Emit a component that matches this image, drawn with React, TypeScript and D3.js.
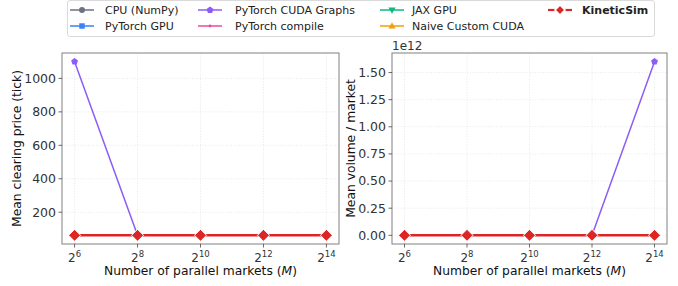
import React, { useRef, useEffect } from 'react';
import * as d3 from 'd3';

// x positions are powers of two
const marketExponents = [6, 8, 10, 12, 14];

const seriesNames = ['CPU (NumPy)', 'PyTorch GPU', 'PyTorch CUDA Graphs', 'PyTorch compile', 'JAX GPU', 'Naive Custom CUDA', 'KineticSim'];
const seriesColors = ['#6b7280', '#3b82f6', '#8b5cf6', '#ec4899', '#10b981', '#f59e0b', '#dc2626'];
const seriesMarkers = ['circle', 'square', 'pentagon', 'point', 'tri-down', 'tri-up', 'diamond'];

// Mean clearing price (tick), per series
const priceCpu = [62, 62, 62, 62, 62];
const pricePyGpu = [62, 62, 62, 62, 62];
const priceCudaGraphs = [1100, 62, 62, 62, 62];
const priceCompile = [62, 62, 62, 62, 62];
const priceJax = [62, 62, 62, 62, 62];
const priceNaive = [62, 62, 62, 62, 62];
const priceKinetic = [62, 62, 62, 62, 62];

// Mean volume per market, per series
const volumeCpu = [2.4e4, 2.4e4, 2.4e4, 2.4e4, 2.4e4];
const volumePyGpu = [2.4e4, 2.4e4, 2.4e4, 2.4e4, 2.4e4];
const volumeCudaGraphs = [2.4e4, 2.4e4, 2.4e4, 2.4e4, 1.6e12];
const volumeCompile = [2.4e4, 2.4e4, 2.4e4, 2.4e4, 2.4e4];
const volumeJax = [2.4e4, 2.4e4, 2.4e4, 2.4e4, 2.4e4];
const volumeNaive = [2.4e4, 2.4e4, 2.4e4, 2.4e4, 2.4e4];
const volumeKinetic = [2.4e4, 2.4e4, 2.4e4, 2.4e4, 2.4e4];

const priceTicks = [200, 400, 600, 800, 1000];
const volumeTicks = [0, 0.25e12, 0.5e12, 0.75e12, 1e12, 1.25e12, 1.5e12];

const priceSeries = [priceCpu, pricePyGpu, priceCudaGraphs, priceCompile, priceJax, priceNaive, priceKinetic];
const volumeSeries = [volumeCpu, volumePyGpu, volumeCudaGraphs, volumeCompile, volumeJax, volumeNaive, volumeKinetic];

const FONT = "'DejaVu Sans', sans-serif";

// matplotlib-like marker shapes
function markerPath(kind: string, big: boolean) {
  switch (kind) {
    case 'circle': return d3.symbol(d3.symbolCircle, 28)();
    case 'square': return d3.symbol(d3.symbolSquare, 30)();
    case 'pentagon': {
      const r = 3.6;
      const pts = d3.range(5).map(i => {
        const a = -Math.PI / 2 + i * 2 * Math.PI / 5;
        return [r * Math.cos(a), r * Math.sin(a)];
      });
      return 'M' + pts.map(p => p.join(',')).join('L') + 'Z';
    }
    case 'point': return d3.symbol(d3.symbolCircle, 6)();
    case 'tri-down': return 'M-3.6,-2.4L3.6,-2.4L0,3.8Z';
    case 'tri-up': return 'M-3.6,2.4L3.6,2.4L0,-3.8Z';
    case 'diamond': {
      const r = big ? 6 : 5;
      return `M0,${-r}L${r},0L0,${r}L${-r},0Z`;
    }
  }
  return '';
}

interface PanelSpec {
  left: number;
  right: number;
  data: number[][];
  ticks: number[];
  tickFormat: (v: number) => string;
  yLabel: string;
  yLabelX: number;
  offsetText?: string;
}

const App: React.FC = () => {
  const svgRef = useRef<SVGSVGElement>(null);
  const width = 678;
  const height = 286;

  useEffect(() => {
    const svg = d3.select(svgRef.current);
    svg.selectAll('*').remove();

    const top = 53;
    const bottom = 244;

    const panels: PanelSpec[] = [
      {
        left: 62, right: 339, data: priceSeries, ticks: priceTicks,
        tickFormat: v => String(v), yLabel: 'Mean clearing price (tick)', yLabelX: 17
      },
      {
        left: 392, right: 667, data: volumeSeries, ticks: volumeTicks,
        tickFormat: v => (v / 1e12).toFixed(2), yLabel: 'Mean volume / market', yLabelX: 351,
        offsetText: '1e12'
      }
    ];

    panels.forEach(p => {
      const xScale = d3.scaleLinear().domain([5.6, 14.4]).range([p.left, p.right]);
      const all = p.data.flat();
      const lo = d3.min(all) as number;
      const hi = d3.max(all) as number;
      const pad = (hi - lo) * 0.05;
      const yScale = d3.scaleLinear().domain([lo - pad, hi + pad]).range([bottom, top]);

      const g = svg.append('g');

      // grid
      g.selectAll('.vgrid').data(marketExponents).enter().append('line')
        .attr('x1', d => xScale(d)).attr('x2', d => xScale(d))
        .attr('y1', top).attr('y2', bottom)
        .attr('stroke', '#e3e3e3').attr('stroke-width', 0.8).attr('stroke-dasharray', '1,1.6');
      g.selectAll('.hgrid').data(p.ticks).enter().append('line')
        .attr('x1', p.left).attr('x2', p.right)
        .attr('y1', d => yScale(d)).attr('y2', d => yScale(d))
        .attr('stroke', '#e3e3e3').attr('stroke-width', 0.8).attr('stroke-dasharray', '1,1.6');

      // series
      p.data.forEach((vals, si) => {
        const isKinetic = si === p.data.length - 1;
        const pts = vals.map((v, i) => ({ x: marketExponents[i], y: v }));
        const line = d3.line<{ x: number; y: number }>().x(d => xScale(d.x)).y(d => yScale(d.y));
        g.append('path').datum(pts)
          .attr('fill', 'none')
          .attr('stroke', seriesColors[si])
          .attr('stroke-width', isKinetic ? 2.6 : 1.5)
          .attr('d', line);
        g.selectAll(null).data(pts).enter().append('path')
          .attr('transform', d => `translate(${xScale(d.x)},${yScale(d.y)})`)
          .attr('d', markerPath(seriesMarkers[si], true))
          .attr('fill', seriesColors[si])
          .attr('stroke', isKinetic ? '#ffffff' : 'none')
          .attr('stroke-width', isKinetic ? 1 : 0);
      });

      // frame
      g.append('rect')
        .attr('x', p.left).attr('y', top)
        .attr('width', p.right - p.left).attr('height', bottom - top)
        .attr('fill', 'none').attr('stroke', '#808080').attr('stroke-width', 1);

      // x ticks
      marketExponents.forEach(e => {
        const x = xScale(e);
        g.append('line').attr('x1', x).attr('x2', x).attr('y1', bottom).attr('y2', bottom + 3.5)
          .attr('stroke', '#444').attr('stroke-width', 0.8);
        const t = g.append('text').attr('x', x).attr('y', 262)
          .attr('text-anchor', 'middle').attr('fill', '#333')
          .style('font-family', FONT).style('font-size', '12px');
        t.append('tspan').text('2');
        t.append('tspan').attr('dy', -5).style('font-size', '8.5px').text(String(e));
      });

      // y ticks
      p.ticks.forEach(v => {
        const y = yScale(v);
        g.append('line').attr('x1', p.left - 3.5).attr('x2', p.left).attr('y1', y).attr('y2', y)
          .attr('stroke', '#444').attr('stroke-width', 0.8);
        g.append('text').attr('x', p.left - 6).attr('y', y).attr('dy', '0.35em')
          .attr('text-anchor', 'end').attr('fill', '#333')
          .style('font-family', FONT).style('font-size', '12.5px')
          .text(p.tickFormat(v));
      });

      if (p.offsetText) {
        g.append('text').attr('x', p.left).attr('y', 50)
          .attr('fill', '#333').style('font-family', FONT).style('font-size', '12px')
          .text(p.offsetText);
      }

      // axis labels
      const xl = g.append('text').attr('x', (p.left + p.right) / 2).attr('y', 275)
        .attr('text-anchor', 'middle').attr('fill', '#111')
        .style('font-family', FONT).style('font-size', '12.3px');
      xl.append('tspan').text('Number of parallel markets (');
      xl.append('tspan').style('font-style', 'italic').text('M');
      xl.append('tspan').text(')');

      g.append('text')
        .attr('transform', `translate(${p.yLabelX},${(top + bottom) / 2}) rotate(-90)`)
        .attr('dy', '0.35em')
        .attr('text-anchor', 'middle').attr('fill', '#111')
        .style('font-family', FONT).style('font-size', '12.3px')
        .text(p.yLabel);
    });

    // legend
    const lg = svg.append('g');
    lg.append('rect').attr('x', 67.5).attr('y', 0.5).attr('width', 587).attr('height', 36)
      .attr('rx', 2.5).attr('fill', '#ffffff').attr('stroke', '#d0d0d0').attr('stroke-width', 0.8);
    const colLine = [70, 198, 380, 548];
    const colText = [105, 235, 412, 582];
    const rowY = [10, 26];
    seriesNames.forEach((name, i) => {
      const col = Math.floor(i / 2);
      const row = i % 2;
      const isKinetic = i === seriesNames.length - 1;
      const x0 = colLine[col];
      const y = rowY[row];
      lg.append('line').attr('x1', x0).attr('x2', x0 + 24).attr('y1', y).attr('y2', y)
        .attr('stroke', seriesColors[i]).attr('stroke-width', isKinetic ? 2.2 : 1.5);
      lg.append('path').attr('transform', `translate(${x0 + 12},${y})`)
        .attr('d', markerPath(seriesMarkers[i], false))
        .attr('fill', seriesColors[i])
        .attr('stroke', isKinetic ? '#ffffff' : 'none').attr('stroke-width', 1.6);
      lg.append('text').attr('x', colText[col]).attr('y', y).attr('dy', '0.35em')
        .attr('fill', '#222')
        .style('font-family', FONT).style('font-size', '11px')
        .style('font-weight', isKinetic ? 'bold' : 'normal')
        .text(name);
    });
  }, []);

  return (
    <svg
      ref={svgRef}
      width={width}
      height={height}
      fontFamily={FONT}
      style={{ position: 'absolute', left: 0, top: 0, background: '#ffffff' }}
    />
  );
};

export default App;
